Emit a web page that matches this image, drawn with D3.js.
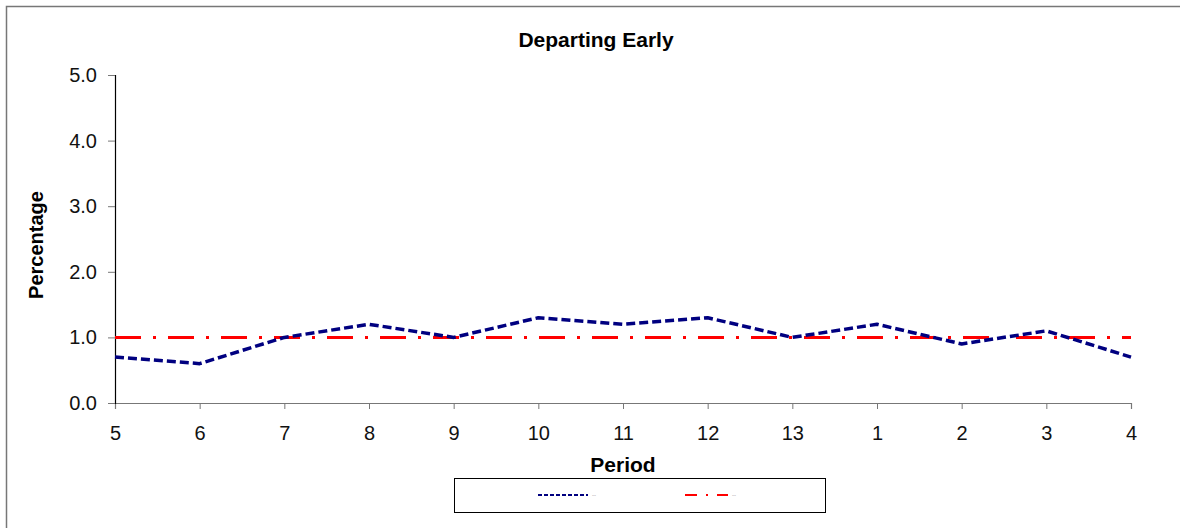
<!DOCTYPE html>
<html>
<head>
<meta charset="utf-8">
<script src="https://cdn.jsdelivr.net/npm/d3@7"></script>
<style>
  body { margin: 0; background: #fff; }
  text { font-family: Arial, "Liberation Sans", sans-serif; }
</style>
</head>
<body>
<script>
// data
const periods = ['5', '6', '7', '8', '9', '10', '11', '12', '13', '1', '2', '3', '4'];
const actual = [0.7, 0.6, 1.0, 1.2, 1.0, 1.3, 1.2, 1.3, 1.0, 1.2, 0.9, 1.1, 0.7];
const target = [1.0, 1.0, 1.0, 1.0, 1.0, 1.0, 1.0, 1.0, 1.0, 1.0, 1.0, 1.0, 1.0];
const yTicks = [0, 1, 2, 3, 4, 5];

const width = 1180;
const height = 528;
const plot = {left: 115, right: 1131, top: 75, bottom: 403};

const svg = d3.select('body')
  .append('svg')
  .attr('width', width)
  .attr('height', height);

// outer frame
svg.append('rect')
  .attr('x', 6.5).attr('y', 6.5)
  .attr('width', 1180).attr('height', 540)
  .attr('fill', 'none')
  .attr('stroke', '#777')
  .attr('stroke-width', 1.5);

const x = d3.scalePoint()
  .domain(periods)
  .range([plot.left, plot.right]);

const y = d3.scaleLinear()
  .domain([0, 5])
  .range([plot.bottom, plot.top]);

// axes
const xAxis = svg.append('g')
  .attr('transform', `translate(0,${plot.bottom})`)
  .call(d3.axisBottom(x).tickSizeOuter(0).tickSize(6).tickPadding(17));

const yAxis = svg.append('g')
  .attr('transform', `translate(${plot.left},0)`)
  .call(d3.axisLeft(y).tickValues(yTicks).tickFormat(d3.format('.1f'))
    .tickSizeOuter(0).tickSize(7).tickPadding(11));

xAxis.select('.domain').attr('stroke', '#777').attr('stroke-width', 1.2);
xAxis.selectAll('.tick line').attr('stroke', '#777');
yAxis.select('.domain').attr('stroke', '#000').attr('stroke-width', 1.2);
yAxis.selectAll('.tick line').attr('stroke', '#777');
svg.selectAll('.tick text')
  .attr('font-family', 'Arial, "Liberation Sans", sans-serif')
  .attr('font-size', 20)
  .attr('fill', '#111');

// lines
const line = d3.line()
  .x((d, i) => x(periods[i]))
  .y(d => y(d));

svg.append('path')
  .datum(target)
  .attr('d', line)
  .attr('fill', 'none')
  .attr('stroke', '#ff0000')
  .attr('stroke-width', 3)
  .attr('stroke-dasharray', '26 12 3 12');

svg.append('path')
  .datum(actual)
  .attr('d', line)
  .attr('fill', 'none')
  .attr('stroke', '#000080')
  .attr('stroke-width', 3.5)
  .attr('stroke-linejoin', 'round')
  .attr('stroke-dasharray', '9 4');

// titles
svg.append('text')
  .attr('x', 596).attr('y', 47)
  .attr('text-anchor', 'middle')
  .attr('font-size', 21).attr('font-weight', 'bold')
  .text('Departing Early');

svg.append('text')
  .attr('x', (plot.left + plot.right) / 2).attr('y', 472)
  .attr('text-anchor', 'middle')
  .attr('font-size', 21).attr('font-weight', 'bold')
  .text('Period');

svg.append('text')
  .attr('transform', `translate(43,${(plot.top + plot.bottom) / 2 + 6}) rotate(-90)`)
  .attr('text-anchor', 'middle')
  .attr('font-size', 20).attr('font-weight', 'bold')
  .text('Percentage');

// legend
const legend = svg.append('g');
legend.append('rect')
  .attr('x', 454.5).attr('y', 478.5)
  .attr('width', 371).attr('height', 34)
  .attr('fill', '#fff')
  .attr('stroke', '#000')
  .attr('stroke-width', 1);

const legendItems = [
  {x: 538, len: 50, color: '#000080', dash: '4 2', label: '--'},
  {x: 685, len: 43, color: '#ff0000', dash: '12 9 2 9', label: '--'},
];

legendItems.forEach(item => {
  legend.append('line')
    .attr('x1', item.x).attr('x2', item.x + item.len)
    .attr('y1', 495).attr('y2', 495)
    .attr('stroke', item.color)
    .attr('stroke-width', 2)
    .attr('stroke-dasharray', item.dash);
  legend.append('text')
    .attr('x', item.x + item.len + 4).attr('y', 497)
    .attr('font-size', 6)
    .attr('fill', '#999')
    .text(item.label);
});
</script>
</body>
</html>
